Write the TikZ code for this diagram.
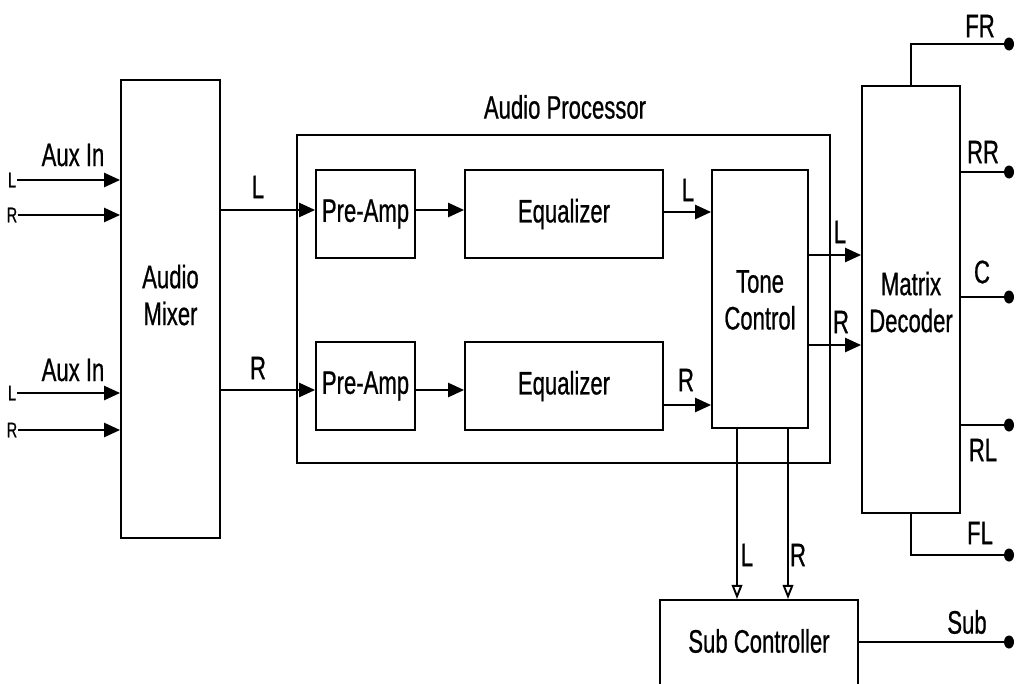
\documentclass[tikz,border=0pt]{standalone}
\usepackage{fontspec}
\setmainfont{Liberation Sans}[FakeStretch=0.68,FakeBold=0.7]
\usetikzlibrary{arrows.meta,shapes.geometric}
\begin{document}
\begin{tikzpicture}[x=0.02cm,y=-0.02cm,
  line width=1.1pt,
  box/.style={draw,rectangle,inner sep=0pt},
  txt/.style={font=\fontsize{18.5}{21}\selectfont,align=center,inner sep=0pt},
  sml/.style={font=\fontsize{12}{14}\selectfont,inner sep=0pt},
  arr/.style={-{Triangle[length=9pt,width=8pt]}},
  oarr/.style={-{Triangle[open,length=8pt,width=6pt]}},
  dot/.style={ellipse,fill,inner sep=0pt,minimum width=0.2cm,minimum height=0.26cm}]
\useasboundingbox (0,0) rectangle (1017,683);
% boxes
\node[box,minimum width=1.98cm,minimum height=9.16cm] (mix) at (170.5,309) {};
\node[txt] at (170.5,295) {Audio\\Mixer};
\node[box,minimum width=10.66cm,minimum height=6.56cm] (ap) at (563.5,299) {};
\node[txt] (aptitle) at (565,107) {Audio Processor};
\node[box,txt,minimum width=1.98cm,minimum height=1.76cm] (pa1) at (365.5,214) {Pre-Amp};
\node[box,txt,minimum width=1.98cm,minimum height=1.76cm] (pa2) at (365.5,386) {Pre-Amp};
\node[box,txt,minimum width=3.96cm,minimum height=1.76cm] (eq1) at (564,214) {Equalizer};
\node[box,txt,minimum width=3.96cm,minimum height=1.76cm] (eq2) at (564,386) {Equalizer};
\node[box,minimum width=1.92cm,minimum height=5.16cm] (tone) at (760,299) {};
\node[txt] at (760,300) {Tone\\Control};
\node[box,minimum width=1.96cm,minimum height=8.54cm] (mat) at (911,299.5) {};
\node[txt] at (911,302) {Matrix\\Decoder};
\node[box,minimum width=3.96cm,minimum height=1.8cm] (sub) at (759,645) {};
\node[txt] at (759,641) {Sub Controller};
% inputs
\node[txt] (aux1) at (73,155) {Aux In};
\node[txt] (aux2) at (73,370) {Aux In};
\node[sml] (l1) at (12,180) {L};
\node[sml] (r1) at (12,215) {R};
\node[sml] (l2) at (12,393) {L};
\node[sml] (r2) at (12,430) {R};
\draw[arr] (l1.east) -- (mix.west |- l1.east);
\draw[arr] (r1.east) -- (mix.west |- r1.east);
\draw[arr] (l2.east) -- (mix.west |- l2.east);
\draw[arr] (r2.east) -- (mix.west |- r2.east);
% mixer to preamps
\coordinate (yl) at (0,210);
\coordinate (yr) at (0,390);
\draw[arr] (mix.east |- yl) -- (pa1.west |- yl);
\draw[arr] (mix.east |- yr) -- (pa2.west |- yr);
\node[txt] at (258,187) {L};
\node[txt] at (258,368) {R};
\draw[arr] (pa1.east |- yl) -- (eq1.west |- yl);
\draw[arr] (pa2.east |- yr) -- (eq2.west |- yr);
% eq to tone
\coordinate (el) at (0,212);
\coordinate (er) at (0,405);
\draw[arr] (eq1.east |- el) -- (tone.west |- el);
\draw[arr] (eq2.east |- er) -- (tone.west |- er);
\node[txt] at (688,190) {L};
\node[txt] at (686,380) {R};
% tone to matrix
\coordinate (tl) at (0,255);
\coordinate (tr) at (0,345);
\draw[arr] (tone.east |- tl) -- (mat.west |- tl);
\draw[arr] (tone.east |- tr) -- (mat.west |- tr);
\node[txt] at (840,232) {L};
\node[txt] at (841,322) {R};
% tone to sub
\coordinate (sl) at (737,0);
\coordinate (sr) at (788,0);
\draw[oarr] (tone.south -| sl) -- (sub.north -| sl);
\draw[oarr] (tone.south -| sr) -- (sub.north -| sr);
\node[txt] at (747,555) {L};
\node[txt] at (798,555) {R};
% outputs
\node[dot] (dfr) at (1009,44) {};
\node[dot] (drr) at (1009,172) {};
\node[dot] (dc) at (1009,297) {};
\node[dot] (drl) at (1009,425) {};
\node[dot] (dfl) at (1009,555) {};
\node[dot] (dsub) at (1009,642) {};
\draw (mat.north) |- (dfr.center);
\draw (mat.east |- drr) -- (drr.center);
\draw (mat.east |- dc) -- (dc.center);
\draw (mat.east |- drl) -- (drl.center);
\draw (mat.south) |- (dfl.center);
\draw (sub.east |- dsub) -- (dsub.center);
\node[txt] at (980,26) {FR};
\node[txt] at (983,152) {RR};
\node[txt] at (982,272) {C};
\node[txt] at (983,450) {RL};
\node[txt] at (980,533) {FL};
\node[txt] at (967,622) {Sub};
\end{tikzpicture}
\end{document}
